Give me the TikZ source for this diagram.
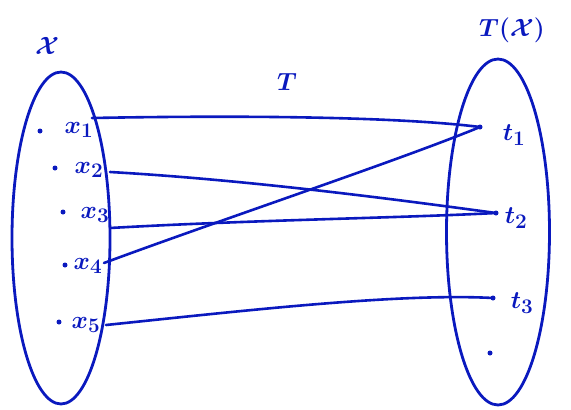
\documentclass[tikz,border=0pt]{standalone}
\usetikzlibrary{shapes.geometric}
\definecolor{ink}{RGB}{10,25,190}
\begin{document}
\begin{tikzpicture}[x=1pt,y=-1pt,
  ink line/.style={draw=ink,line width=2.6pt,line cap=round},
  set/.style={ellipse,draw=ink,line width=2.8pt,inner sep=0pt},
  lbl/.style={text=ink,font=\fontsize{28}{32}\selectfont\boldmath},
  dotpt/.style={circle,fill=ink,inner sep=0pt,minimum size=5pt}]
\useasboundingbox (0,0) rectangle (571,410);
% sets
\node[set,minimum width=98pt,minimum height=332pt] (X) at (61,238) {};
\node[set,minimum width=103pt,minimum height=346pt] (TX) at (498,232) {};
% set labels
\node[lbl] (Xl) at (47,46) {$\mathcal{X}$};
\node[lbl] (TXl) at (512,30) {$T(\mathcal{X})$};
\node[lbl] (Tl) at (287,82) {$T$};
% points in X
\node[dotpt] (d1) at (40,131) {};
\node[dotpt] (d2) at (55,168) {};
\node[dotpt] (d3) at (63,212) {};
\node[dotpt] (d4) at (65,265) {};
\node[dotpt] (d5) at (59,322) {};
\node[lbl] (x1) at (79,130) {$x_1$};
\node[lbl] (x2) at (89,170) {$x_2$};
\node[lbl] (x3) at (95,215) {$x_3$};
\node[lbl] (x4) at (88,266) {$x_4$};
\node[lbl] (x5) at (86,325) {$x_5$};
% points in T(X)
\node[dotpt] (e1) at (480,127) {};
\node[dotpt] (e2) at (496,213) {};
\node[dotpt] (e3) at (493,298) {};
\node[dotpt] (e4) at (490,353) {};
\node[lbl] (t1) at (514,135) {$t_1$};
\node[lbl] (t2) at (516,218) {$t_2$};
\node[lbl] (t3) at (522,303) {$t_3$};
% connector start coordinates
\coordinate (s1) at (92,118);
\coordinate (s2) at (110,172);
\coordinate (s3) at (110,228);
\coordinate (s4) at (104,263);
\coordinate (s5) at (106,325);
% connectors
\draw[ink line] (s1) .. controls (250,115) and (400,117) .. (e1.center);
\draw[ink line] (s2) .. controls (250,180) and (400,200) .. (e2.center);
\draw[ink line] (s3) .. controls (250,220) and (400,218) .. (e2.center);
\draw[ink line] (s4) .. controls (220,220) and (400,160) .. (e1.center);
\draw[ink line] (s5) .. controls (250,310) and (400,293) .. (e3.center);
\end{tikzpicture}
\end{document}
